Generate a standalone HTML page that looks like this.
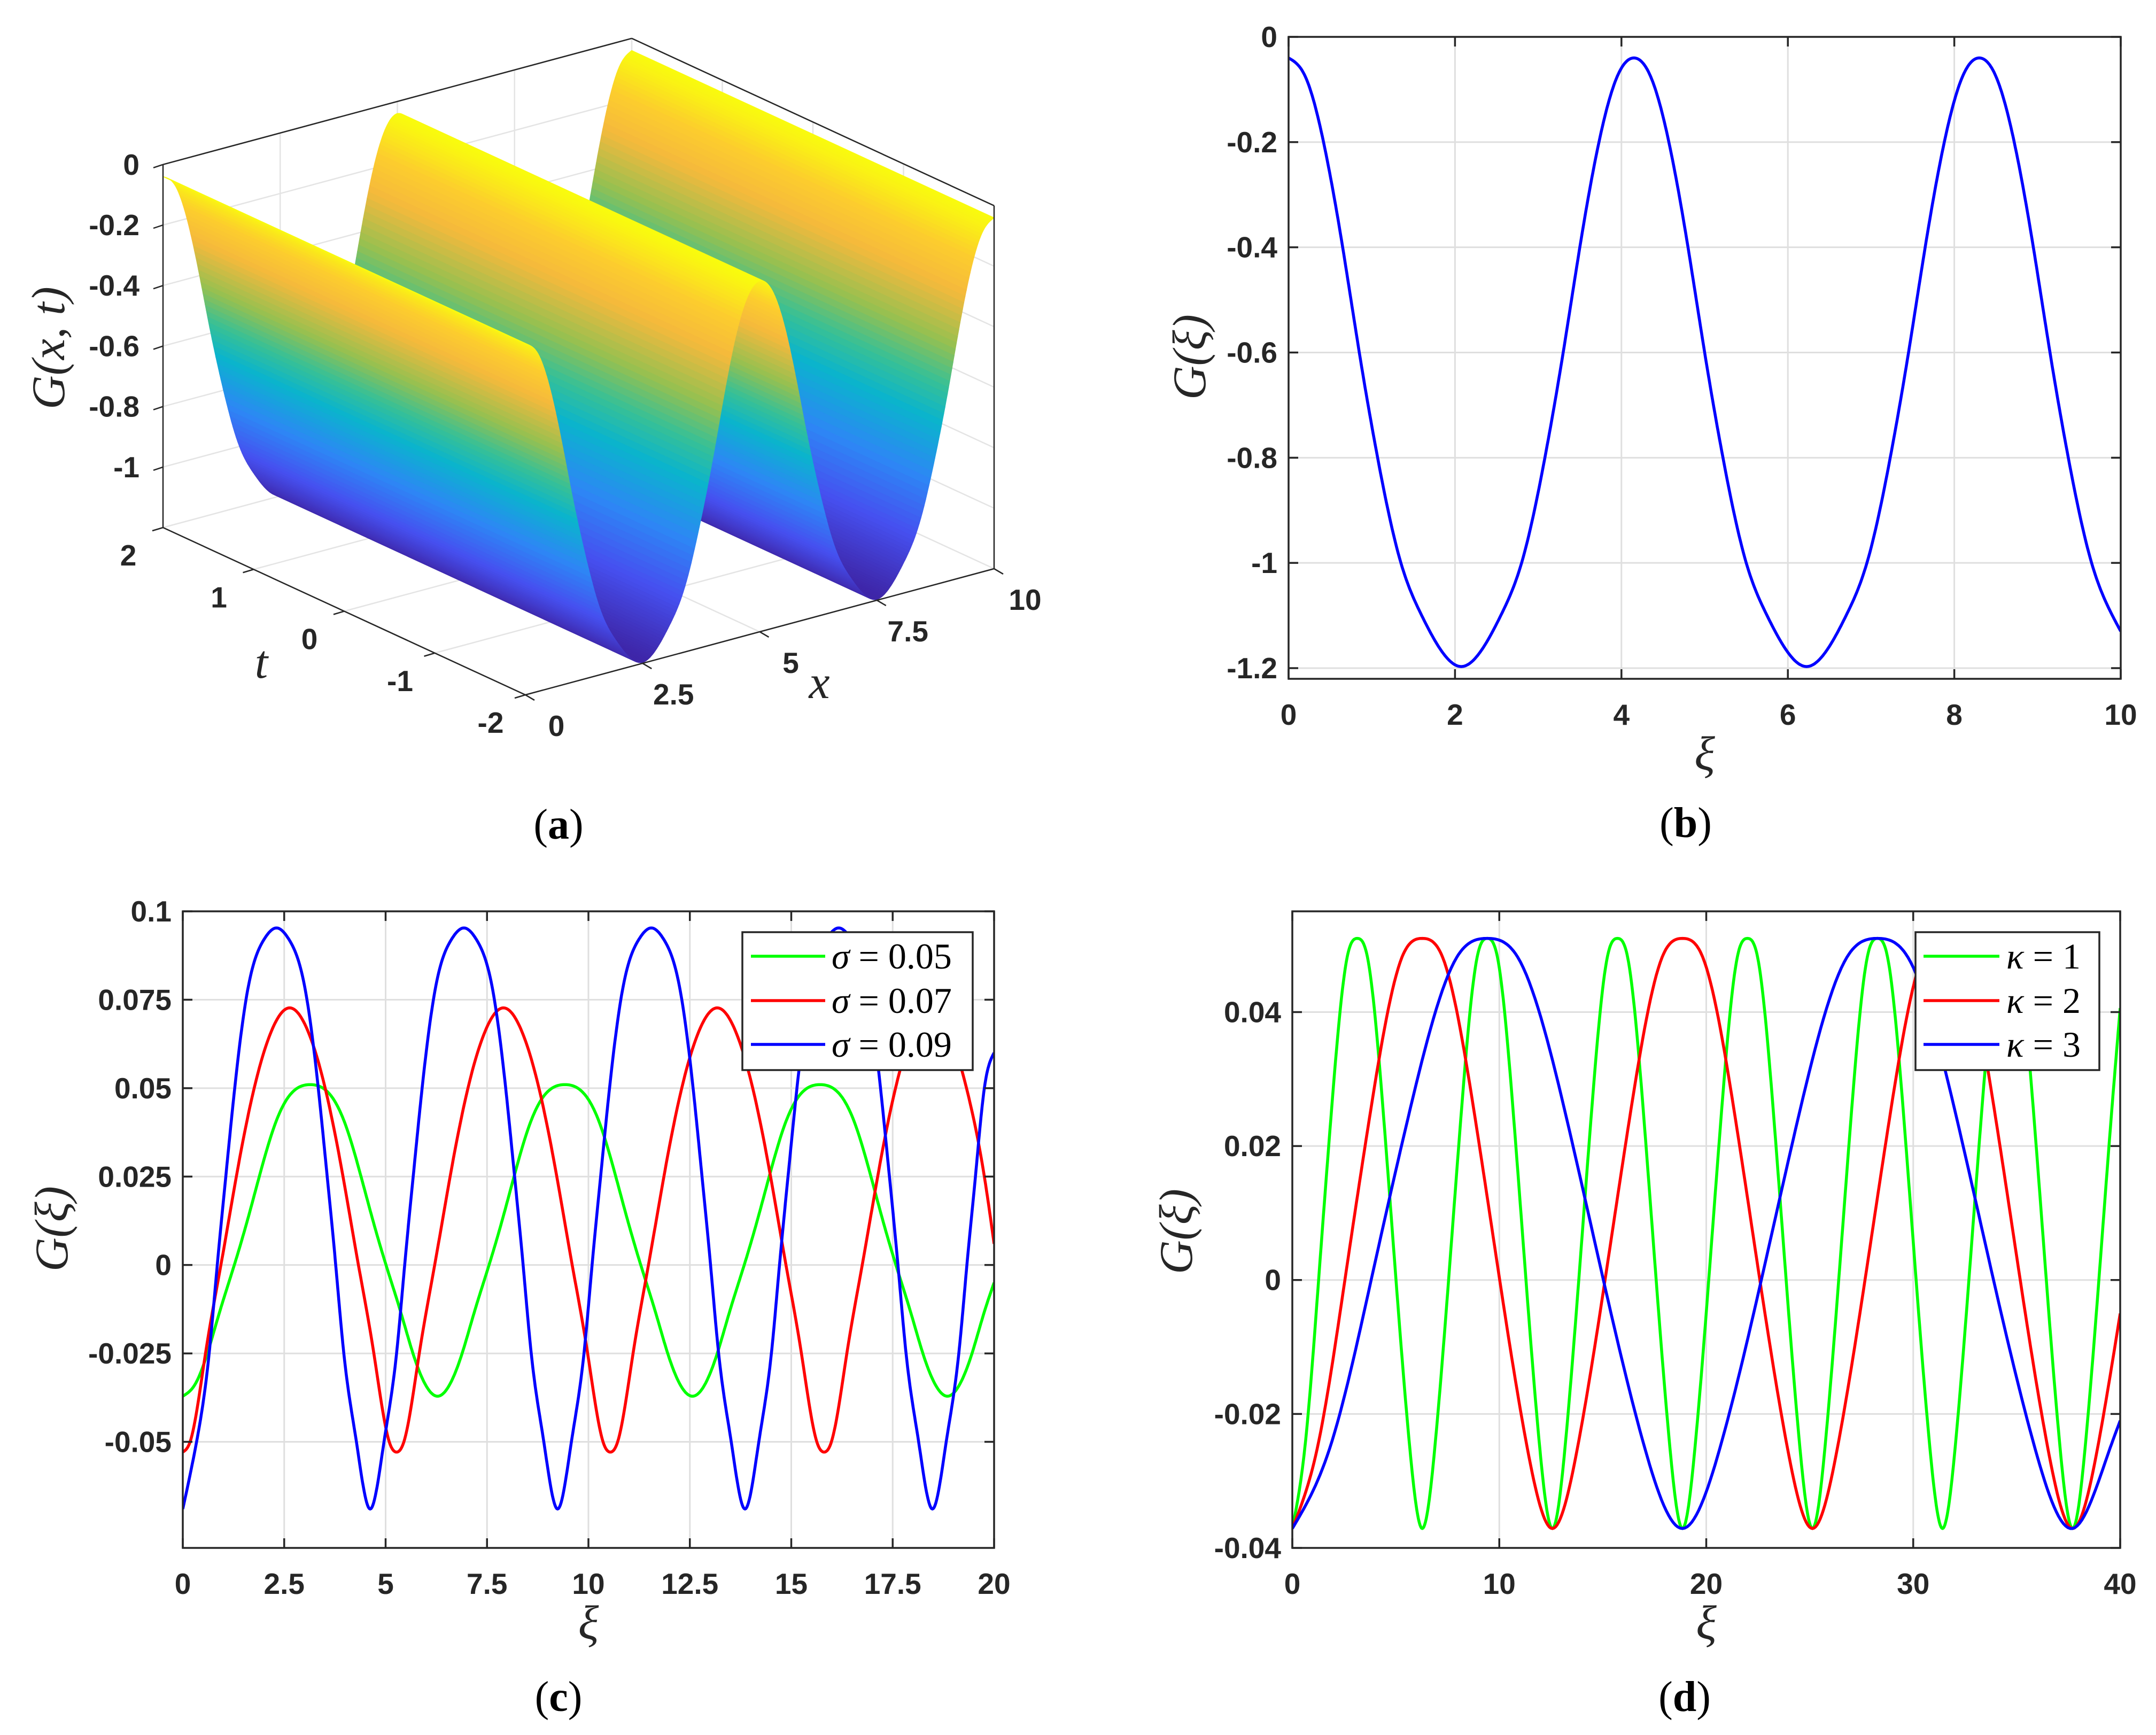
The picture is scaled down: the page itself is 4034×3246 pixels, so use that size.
<!DOCTYPE html>
<html><head><meta charset="utf-8"><title>Figure</title>
<style>
html,body{margin:0;padding:0;background:#fff;}
svg{display:block;}
.tk{font-family:"Liberation Sans",Arial,sans-serif;font-weight:bold;font-size:55px;fill:#262626;}
.ml{font-family:"Liberation Serif","DejaVu Serif",serif;font-style:italic;fill:#262626;}
.cap{font-family:"Liberation Serif","DejaVu Serif",serif;font-size:80px;fill:#000;}
.lg{font-family:"Liberation Serif","DejaVu Serif",serif;font-size:68px;fill:#000;}
</style></head>
<body>
<svg id="fig" xmlns="http://www.w3.org/2000/svg" width="4034" height="3246" viewBox="0 0 4034 3246">
<rect x="0" y="0" width="4034" height="3246" fill="#fff"/>
</svg>
<script>
// ---------- DATA ----------
const aX=[0,.24,.51,.78,1.02,1.29,1.63,1.93,2.23,2.5,2.77,3.07,3.37,3.71,3.98,4.22,4.49,4.76,5.0,5.24,5.51,5.78,6.02,6.29,6.63,6.93,7.23,7.5,7.77,8.07,8.37,8.71,8.98,9.22,9.49,9.76,10];
const aZ=[-.04,-.075,-.2,-.4,-.6,-.8,-1.0,-1.1,-1.17,-1.197,-1.17,-1.1,-1.0,-.8,-.6,-.4,-.2,-.075,-.04,-.075,-.2,-.4,-.6,-.8,-1.0,-1.1,-1.17,-1.197,-1.17,-1.1,-1.0,-.8,-.6,-.4,-.2,-.075,-.04];
const aXTicks=[0,2.5,5,7.5,10];
const aXTickLabels=["0","2.5","5","7.5","10"];
const aTTicks=[2,1,0,-1,-2];
const aTTickLabels=["2","1","0","-1","-2"];
const aZTicks=[0,-0.2,-0.4,-0.6,-0.8,-1];
const aZTickLabels=["0","-0.2","-0.4","-0.6","-0.8","-1"];

const bXi=[0,.2,.42,.65,.85,1.07,1.35,1.6,1.85,2.075,2.3,2.55,2.8,3.08,3.3,3.5,3.73,3.95,4.15,4.35,4.57,4.8,5.0,5.22,5.5,5.75,6.0,6.225,6.45,6.7,6.95,7.23,7.45,7.65,7.88,8.1,8.3,8.5,8.72,8.95,9.15,9.37,9.65,9.9,10];
const bG=[-.04,-.075,-.2,-.4,-.6,-.8,-1.0,-1.1,-1.17,-1.197,-1.17,-1.1,-1.0,-.8,-.6,-.4,-.2,-.075,-.04,-.075,-.2,-.4,-.6,-.8,-1.0,-1.1,-1.17,-1.197,-1.17,-1.1,-1.0,-.8,-.6,-.4,-.2,-.075,-.04,-.075,-.2,-.4,-.6,-.8,-1.0,-1.1,-1.13];
const bXTicks=[0,2,4,6,8,10];
const bXTickLabels=["0","2","4","6","8","10"];
const bYTicks=[0,-0.2,-0.4,-0.6,-0.8,-1,-1.2];
const bYTickLabels=["0","-0.2","-0.4","-0.6","-0.8","-1","-1.2"];

const cXiGreen=[0,.3,.6,.9,1.27,1.6,1.9,2.3,2.65,3.14,3.63,3.98,4.38,4.68,5.01,5.38,5.68,5.98,6.28,
 6.58,6.88,7.18,7.55,7.88,8.18,8.58,8.93,9.42,9.91,10.26,10.66,10.96,11.29,11.66,11.96,12.26,12.57,
 12.87,13.17,13.47,13.84,14.17,14.47,14.87,15.22,15.71,16.2,16.55,16.95,17.25,17.58,17.95,18.25,18.55,18.85,
 19.15,19.45,19.75,20];
const cGGreen=[-.0371,-.0338,-.0252,-.0136,0,.0129,.0256,.0406,.0482,.051,.0482,.0406,.0256,.0129,0,-.0136,-.0252,-.0338,-.0371,
 -.0338,-.0252,-.0136,0,.0129,.0256,.0406,.0482,.051,.0482,.0406,.0256,.0129,0,-.0136,-.0252,-.0338,-.0371,
 -.0338,-.0252,-.0136,0,.0129,.0256,.0406,.0482,.051,.0482,.0406,.0256,.0129,0,-.0136,-.0252,-.0338,-.0371,
 -.0338,-.0252,-.0136,-.005];
const cXiRed=[0,.18,.56,.94,1.32,1.76,2.18,2.635,3.09,3.51,3.95,4.33,4.71,5.09,5.27,
 5.45,5.83,6.21,6.59,7.03,7.45,7.905,8.36,8.78,9.22,9.6,9.98,10.36,10.54,
 10.72,11.1,11.48,11.86,12.3,12.72,13.175,13.63,14.05,14.49,14.87,15.25,15.63,15.81,
 15.99,16.37,16.75,17.13,17.57,17.99,18.445,18.9,19.32,19.76,20];
const cGRed=[-.0529,-.05,-.025,0,.025,.05,.066,.0727,.066,.05,.025,0,-.025,-.05,-.0529,
 -.05,-.025,0,.025,.05,.066,.0727,.066,.05,.025,0,-.025,-.05,-.0529,
 -.05,-.025,0,.025,.05,.066,.0727,.066,.05,.025,0,-.025,-.05,-.0529,
 -.05,-.025,0,.025,.05,.066,.0727,.066,.05,.025,.006];
const cXiBlue=[0,.34,.65,.85,1.06,1.28,1.62,2.0,2.31,2.62,3.0,3.34,3.56,3.77,3.97,4.28,4.62,
 4.96,5.27,5.47,5.68,5.9,6.24,6.62,6.93,7.24,7.62,7.96,8.18,8.39,8.59,8.9,9.24,
 9.58,9.89,10.09,10.3,10.52,10.86,11.24,11.55,11.86,12.24,12.58,12.8,13.01,13.21,13.52,13.86,
 14.2,14.51,14.71,14.92,15.14,15.48,15.86,16.17,16.48,16.86,17.2,17.42,17.63,17.83,18.14,18.48,
 18.82,19.13,19.33,19.54,19.76,20];
const cGBlue=[-.069,-.05,-.025,0,.025,.05,.079,.092,.0953,.092,.079,.05,.025,0,-.025,-.05,-.069,
 -.05,-.025,0,.025,.05,.079,.092,.0953,.092,.079,.05,.025,0,-.025,-.05,-.069,
 -.05,-.025,0,.025,.05,.079,.092,.0953,.092,.079,.05,.025,0,-.025,-.05,-.069,
 -.05,-.025,0,.025,.05,.079,.092,.0953,.092,.079,.05,.025,0,-.025,-.05,-.069,
 -.05,-.025,0,.025,.05,.06];
const cXTicks=[0,2.5,5,7.5,10,12.5,15,17.5,20];
const cXTickLabels=["0","2.5","5","7.5","10","12.5","15","17.5","20"];
const cYTicks=[0.1,0.075,0.05,0.025,0,-0.025,-0.05];
const cYTickLabels=["0.1","0.075","0.05","0.025","0","-0.025","-0.05"];
const cLegendLabels=["0.05","0.07","0.09"];

const dXiGreen=[0,.6,1.27,1.9,2.65,3.14,3.63,4.38,5.01,5.68,6.28,
 6.88,7.55,8.18,8.93,9.42,9.91,10.66,11.29,11.96,12.57,
 13.17,13.84,14.47,15.22,15.71,16.2,16.95,17.58,18.25,18.85,
 19.45,20.12,20.75,21.5,21.99,22.48,23.23,23.86,24.53,25.13,
 25.73,26.4,27.03,27.78,28.27,28.76,29.51,30.14,30.81,31.42,
 32.02,32.69,33.32,34.07,34.56,35.05,35.8,36.43,37.1,37.7,
 38.3,38.97,39.6,40];
const dGGreen=[-.0371,-.0252,0,.0256,.0482,.051,.0482,.0256,0,-.0252,-.0371,
 -.0252,0,.0256,.0482,.051,.0482,.0256,0,-.0252,-.0371,
 -.0252,0,.0256,.0482,.051,.0482,.0256,0,-.0252,-.0371,
 -.0252,0,.0256,.0482,.051,.0482,.0256,0,-.0252,-.0371,
 -.0252,0,.0256,.0482,.051,.0482,.0256,0,-.0252,-.0371,
 -.0252,0,.0256,.0482,.051,.0482,.0256,0,-.0252,-.0371,
 -.0252,0,.0256,.0406];
const dXiRed=[0,1.2,2.54,3.8,5.3,6.28,7.26,8.76,10.02,11.36,12.57,
 13.77,15.11,16.37,17.87,18.85,19.83,21.33,22.59,23.93,25.13,
 26.33,27.67,28.93,30.43,31.42,32.41,33.91,35.17,36.51,37.7,
 38.9,40];
const dGRed=[-.0371,-.0252,0,.0256,.0482,.051,.0482,.0256,0,-.0252,-.0371,
 -.0252,0,.0256,.0482,.051,.0482,.0256,0,-.0252,-.0371,
 -.0252,0,.0256,.0482,.051,.0482,.0256,0,-.0252,-.0371,
 -.0252,-.005];
const dXiBlue=[0,1.8,3.81,5.7,7.95,9.42,10.89,13.14,15.03,17.04,18.85,
 20.65,22.66,24.55,26.8,28.27,29.74,31.99,33.88,35.89,37.7,
 39.5,40];
const dGBlue=[-.0371,-.0252,0,.0256,.0482,.051,.0482,.0256,0,-.0252,-.0371,
 -.0252,0,.0256,.0482,.051,.0482,.0256,0,-.0252,-.0371,
 -.0252,-.021];
const dXTicks=[0,10,20,30,40];
const dXTickLabels=["0","10","20","30","40"];
const dYTicks=[0.04,0.02,0,-0.02,-0.04];
const dYTickLabels=["0.04","0.02","0","-0.02","-0.04"];
const dLegendLabels=["1","2","3"];

// ---------- HELPERS ----------
const NS='http://www.w3.org/2000/svg';
const svg=document.getElementById('fig');
function mk(tag,attrs,parent){const e=document.createElementNS(NS,tag);for(const k in attrs)e.setAttribute(k,attrs[k]);(parent||svg).appendChild(e);return e;}
function lin(d0,d1,r0,r1){return v=>r0+(v-d0)*(r1-r0)/(d1-d0);}
function dense(xs,ys,per){
  const n=xs.length,h=[],al=[0],l=[1],mu=[0],z=[0],c=new Array(n).fill(0),b=[],d=[];
  for(let i=0;i<n-1;i++)h.push(xs[i+1]-xs[i]);
  for(let i=1;i<n-1;i++)al.push(3/h[i]*(ys[i+1]-ys[i])-3/h[i-1]*(ys[i]-ys[i-1]));
  for(let i=1;i<n-1;i++){l[i]=2*(xs[i+1]-xs[i-1])-h[i-1]*mu[i-1];mu[i]=h[i]/l[i];z[i]=(al[i]-h[i-1]*z[i-1])/l[i];}
  for(let j=n-2;j>=0;j--){c[j]=(j>0?z[j]:0)-mu[j]*c[j+1];if(j===0)c[0]=0;b[j]=(ys[j+1]-ys[j])/h[j]-h[j]*(c[j+1]+2*c[j])/3;d[j]=(c[j+1]-c[j])/(3*h[j]);}
  const out=[];
  for(let i=0;i<n-1;i++){for(let k=0;k<per;k++){const t=k/per*h[i];out.push([xs[i]+t,ys[i]+b[i]*t+c[i]*t*t+d[i]*t*t*t]);}}
  out.push([xs[n-1],ys[n-1]]);return out;
}
const INK='#262626',GRID='#dfdfdf';

function draw2D(cfg){
  const g=mk('g',{});
  
  
  const sx=lin(cfg.xd[0],cfg.xd[1],cfg.L,cfg.R), sy=lin(cfg.yd[0],cfg.yd[1],cfg.B,cfg.T);
  const cp=mk('clipPath',{id:cfg.name+'-clip'},g);
  mk('rect',{x:cfg.L,y:cfg.T,width:cfg.R-cfg.L,height:cfg.B-cfg.T},cp);
  cfg.xt.forEach(v=>{const l=mk('line',{x1:sx(v),x2:sx(v),y1:cfg.T,y2:cfg.B,stroke:GRID,'stroke-width':3},g);
    
    });
  cfg.yt.forEach(v=>{const l=mk('line',{x1:cfg.L,x2:cfg.R,y1:sy(v),y2:sy(v),stroke:GRID,'stroke-width':3},g);
    
    });
  cfg.series.forEach(s=>{
    const pts=dense(s.x,s.y,16);
    const d=pts.map((p,i)=>(i?'L':'M')+sx(p[0]).toFixed(1)+' '+sy(p[1]).toFixed(1)).join('');
    const p=mk('path',{d:d,fill:'none',stroke:s.color,'stroke-width':5.5,'stroke-linejoin':'round','clip-path':'url(#'+cfg.name+'-clip)'},g);
    
    
  });
  const box=mk('rect',{x:cfg.L,y:cfg.T,width:cfg.R-cfg.L,height:cfg.B-cfg.T,fill:'none',stroke:INK,'stroke-width':3.5},g);
  
  
  cfg.xt.forEach((v,i)=>{
    mk('line',{x1:sx(v),x2:sx(v),y1:cfg.B,y2:cfg.B-18,stroke:INK,'stroke-width':3.5},g);
    mk('line',{x1:sx(v),x2:sx(v),y1:cfg.T,y2:cfg.T+18,stroke:INK,'stroke-width':3.5},g);
    const t=mk('text',{x:sx(v),y:cfg.B+86,'text-anchor':'middle','class':'tk'},g);t.textContent=cfg.xl[i];
    
    
  });
  cfg.yt.forEach((v,i)=>{
    mk('line',{x1:cfg.L,x2:cfg.L+18,y1:sy(v),y2:sy(v),stroke:INK,'stroke-width':3.5},g);
    mk('line',{x1:cfg.R,x2:cfg.R-18,y1:sy(v),y2:sy(v),stroke:INK,'stroke-width':3.5},g);
    const t=mk('text',{x:cfg.L-21,y:sy(v)+19,'text-anchor':'end','class':'tk'},g);t.textContent=cfg.yl[i];
    
    
  });
  const xl=mk('text',{x:(cfg.L+cfg.R)/2,y:cfg.B+170,'text-anchor':'middle','class':'ml','font-size':90},g);xl.textContent='ξ';
  
  
  const yl=mk('text',{x:0,y:0,'text-anchor':'middle','class':'ml','font-size':88,transform:'translate('+cfg.ylx+','+cfg.yly+') rotate(-90)'},g);yl.textContent='G(ξ)';
  
  
  const cap=mk('text',{x:cfg.capx,y:cfg.capy,'text-anchor':'middle','class':'cap'},g);
  cap.innerHTML='(<tspan font-weight="bold">'+cfg.cap+'</tspan>)';
  
  
  if(cfg.legend){
    const lgd=mk('g',{},g);
    
    
    const L=cfg.legend;
    mk('rect',{x:L.x0,y:1744,width:L.x1-L.x0,height:258,fill:'#fff',stroke:INK,'stroke-width':3.5},lgd);
    const ys=[1789,1872,1954];
    cfg.series.forEach((s,i)=>{
      const e=mk('g',{},lgd);
      
      
      mk('line',{x1:L.l0,x2:L.l1,y1:ys[i],y2:ys[i],stroke:s.color,'stroke-width':5.5},e);
      const t=mk('text',{x:L.tx,y:ys[i]+23,'class':'lg'},e);
      t.innerHTML='<tspan font-style="italic">'+L.sym+'</tspan> = '+L.labels[i];
    });
  }
}

draw2D({name:'panel-b',L:2411,R:3968,T:69,B:1270,xd:[0,10],yd:[-1.2203,0],
  xt:bXTicks,xl:bXTickLabels,yt:bYTicks,yl:bYTickLabels,ylx:2255,yly:668,capx:3154,capy:1566,cap:'b',
  series:[{name:'g-curve',x:bXi,y:bG,color:'#0000ff'}]});
draw2D({name:'panel-c',L:342,R:1860,T:1705,B:2896,xd:[0,20],yd:[-0.08,0.1],
  xt:cXTicks,xl:cXTickLabels,yt:cYTicks,yl:cYTickLabels,ylx:126,yly:2299,capx:1045,capy:3201,cap:'c',
  series:[{name:'sigma-0.05-line',x:cXiGreen,y:cGGreen,color:'#00ff00'},
          {name:'sigma-0.07-line',x:cXiRed,y:cGRed,color:'#ff0000'},
          {name:'sigma-0.09-line',x:cXiBlue,y:cGBlue,color:'#0000ff'}],
  legend:{x0:1389,x1:1820,l0:1405,l1:1544,tx:1556,sym:'σ',labels:cLegendLabels}});
draw2D({name:'panel-d',L:2418,R:3967,T:1705,B:2896,xd:[0,40],yd:[-0.04,0.05504],
  xt:dXTicks,xl:dXTickLabels,yt:dYTicks,yl:dYTickLabels,ylx:2230,yly:2304,capx:3152,capy:3201,cap:'d',
  series:[{name:'kappa-1-line',x:dXiGreen,y:dGGreen,color:'#00ff00'},
          {name:'kappa-2-line',x:dXiRed,y:dGRed,color:'#ff0000'},
          {name:'kappa-3-line',x:dXiBlue,y:dGBlue,color:'#0000ff'}],
  legend:{x0:3584,x1:3928,l0:3599,l1:3741,tx:3754,sym:'κ',labels:dLegendLabels}});

(function(){
  const g=mk('g',{});
  
  
  const ZMIN=-1.2,ZMAX=0;
  const axX=x=>[87.7*x,-23.6*x];
  const axT=t=>[(2-t)*169.5,(2-t)*78.25];
  const axZ=z=>[0,-(z-ZMIN)*566];
  function P(x,t,z){const a=axX(x),b=axT(t),c=axZ(z);return [305+a[0]+b[0]+c[0],987+a[1]+b[1]+c[1]];}
  function ln(p,q,st,w,par){return mk('line',{x1:p[0],y1:p[1],x2:q[0],y2:q[1],stroke:st,'stroke-width':w},par||g);}
  const GR='#e4e4e4';
  const grid=mk('g',{},g);
  
  
  aXTicks.forEach(x=>{ln(P(x,2,ZMIN),P(x,-2,ZMIN),GR,2.5,grid);ln(P(x,2,ZMIN),P(x,2,ZMAX),GR,2.5,grid);});
  aTTicks.forEach(t=>{ln(P(0,t,ZMIN),P(10,t,ZMIN),GR,2.5,grid);ln(P(10,t,ZMIN),P(10,t,ZMAX),GR,2.5,grid);});
  aZTicks.forEach(z=>{ln(P(0,2,z),P(10,2,z),GR,2.5,grid);ln(P(10,2,z),P(10,-2,z),GR,2.5,grid);});
  const stops=[[0,[62,38,168]],[0.15,[70,80,240]],[0.3,[45,135,245]],[0.45,[10,180,205]],[0.55,[55,192,150]],[0.66,[150,192,80]],[0.8,[245,185,60]],[0.9,[252,205,45]],[1,[249,251,14]]];
  function parula(v){v=Math.max(0,Math.min(1,v));for(let i=1;i<stops.length;i++){if(v<=stops[i][0]){const a=stops[i-1],b=stops[i],f=(v-a[0])/(b[0]-a[0]);return 'rgb('+a[1].map((c,k)=>Math.round(c+(b[1][k]-c)*f)).join(',')+')';}}return 'rgb(249,251,14)';}
  const zlo=Math.min(...aZ),zhi=Math.max(...aZ);
  const pts=dense(aX,aZ,10);
  const surf=mk('g',{},g);
  
  
  for(let i=pts.length-2;i>=0;i--){
    const [x1,z1]=pts[i],[x2,z2]=pts[i+1];
    const q=[P(x1,2,z1),P(x2,2,z2),P(x2,-2,z2),P(x1,-2,z1)];
    const col=parula(((z1+z2)/2-zlo)/(zhi-zlo));
    mk('polygon',{points:q.map(p=>p[0].toFixed(1)+','+p[1].toFixed(1)).join(' '),fill:col,stroke:col,'stroke-width':1.2},surf);
  }
  const ax=mk('g',{},g);
  
  
  ln(P(0,2,ZMAX),P(0,2,ZMIN),INK,2.5,ax);
  ln(P(0,2,ZMIN),P(0,-2,ZMIN),INK,2.5,ax);
  ln(P(0,-2,ZMIN),P(10,-2,ZMIN),INK,2.5,ax);
  ln(P(10,-2,ZMIN),P(10,-2,ZMAX),INK,2.5,ax);
  ln(P(0,2,ZMAX),P(10,2,ZMAX),INK,2.5,ax);
  ln(P(10,2,ZMAX),P(10,-2,ZMAX),INK,2.5,ax);
  aZTicks.forEach((z,i)=>{const p=P(0,2,z);ln(p,[p[0]-18,p[1]+6],INK,2.5,ax);
    const t=mk('text',{x:p[0]-44,y:p[1]+19,'text-anchor':'end','class':'tk'},ax);t.textContent=aZTickLabels[i];
    
    });
  aTTicks.forEach((tv,i)=>{const p=P(0,tv,ZMIN);ln(p,[p[0]-20,p[1]+6],INK,2.5,ax);
    const t=mk('text',{x:p[0]-65,y:p[1]+52+19,'text-anchor':'middle','class':'tk'},ax);t.textContent=aTTickLabels[i];
    
    });
  aXTicks.forEach((xv,i)=>{const p=P(xv,-2,ZMIN);ln(p,[p[0]+17,p[1]+10],INK,2.5,ax);
    const t=mk('text',{x:p[0]+58,y:p[1]+58+19,'text-anchor':'middle','class':'tk'},ax);t.textContent=aXTickLabels[i];
    
    });
  const tl=mk('text',{x:489,y:1268,'text-anchor':'middle','class':'ml','font-size':88},g);tl.textContent='t';
  
  
  const xl=mk('text',{x:1533,y:1306,'text-anchor':'middle','class':'ml','font-size':88},g);xl.textContent='x';
  
  
  const zl=mk('text',{x:0,y:0,'text-anchor':'middle','class':'ml','font-size':88,transform:'translate(120,651) rotate(-90)'},g);zl.textContent='G(x, t)';
  
  
  const cap=mk('text',{x:1045,y:1569,'text-anchor':'middle','class':'cap'},g);
  cap.innerHTML='(<tspan font-weight="bold">a</tspan>)';
  
  
})();
</script>
</body></html>
